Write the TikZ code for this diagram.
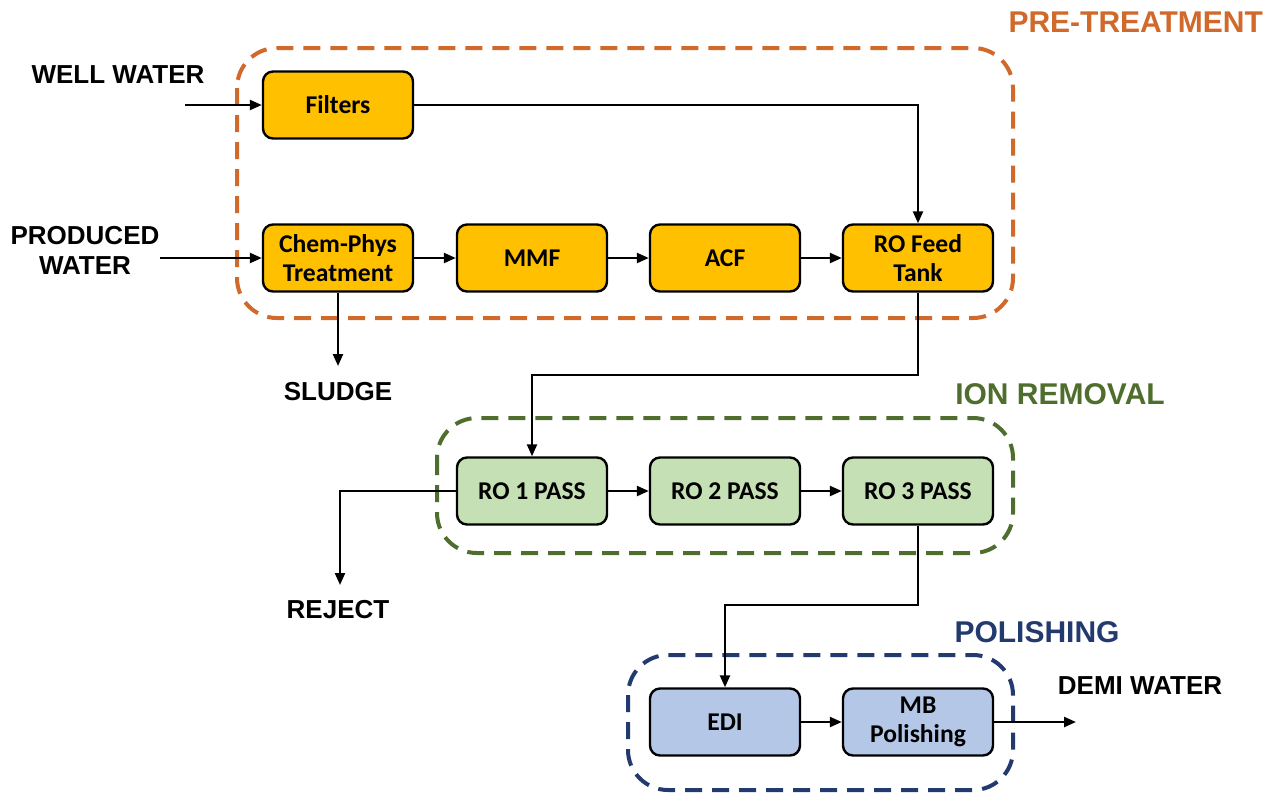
\documentclass[tikz,border=0pt]{standalone}
\usepackage{fontspec}
\newfontfamily\boxfont{Carlito}
\newfontfamily\tagfont{Liberation Sans}
\usetikzlibrary{arrows.meta, positioning}
\definecolor{prefill}{HTML}{FFC000}
\definecolor{preline}{HTML}{D0692A}
\definecolor{ionfill}{HTML}{C5E0B4}
\definecolor{ionline}{HTML}{4F6E2E}
\definecolor{polfill}{HTML}{B4C7E7}
\definecolor{polline}{HTML}{223A6E}
\tikzset{
  unit/.style   = {rectangle, rounded corners=5pt, draw=black, line width=1.2pt,
                   align=center, font=\boxfont\bfseries\fontsize{12.8}{14.5}\selectfont,
                   minimum width=75pt, minimum height=33.5pt, inner sep=2pt},
  preblk/.style = {unit, fill=prefill},
  ionblk/.style = {unit, fill=ionfill},
  polblk/.style = {unit, fill=polfill},
  grp/.style    = {dash pattern=on 8.5pt off 5pt, line width=2pt, rounded corners=20pt},
  tag/.style    = {font=\tagfont\bfseries\fontsize{13}{15}\selectfont, align=center},
  grptag/.style = {font=\tagfont\bfseries\fontsize{15}{17}\selectfont},
  flow/.style   = {-{Triangle[length=6pt, width=5pt]}, line width=1.15pt},
}
\begin{document}
\begin{tikzpicture}[x=0.5pt, y=-0.5pt]
        \useasboundingbox (0,0) rectangle (1268,794);
        % groups
        \draw[grp, draw=preline] (237,48) rectangle (1013,318);
        \draw[grp, draw=ionline] (437,418) rectangle (1013,553);
        \draw[grp, draw=polline] (628,655) rectangle (1013,790);
        \node[grptag, text=preline, anchor=east] (pretag) at (1270,22)  {PRE-TREATMENT};
        \node[grptag, text=ionline] (iontag) at (1060,394) {ION REMOVAL};
        \node[grptag, text=polline] (poltag) at (1037,632) {POLISHING};
        % pre-treatment
        \node[preblk] (filt) at (338,105) {Filters};
        \node[preblk] (chem) at (338,258) {Chem-Phys\\Treatment};
        \node[preblk] (mmf)  at (532,258) {MMF};
        \node[preblk] (acf)  at (725,258) {ACF};
        \node[preblk] (feed) at (918,258) {RO Feed\\Tank};
        % ion removal
        \node[ionblk] (ro1) at (532,491) {RO 1 PASS};
        \node[ionblk] (ro2) at (725,491) {RO 2 PASS};
        \node[ionblk] (ro3) at (918,491) {RO 3 PASS};
        % polishing
        \node[polblk] (edi) at (725,722) {EDI};
        \node[polblk] (mb)  at (918,722) {MB\\Polishing};
        % streams
        \node[tag] (well)   at (118,75)   {WELL WATER};
        \node[tag] (prod)   at (85,250)   {PRODUCED\\WATER};
        \node[tag] (sludge) at (338,392)  {SLUDGE};
        \node[tag] (reject) at (338,610)  {REJECT};
        \node[tag] (demi)   at (1140,686) {DEMI WATER};
        \coordinate (wellin)  at (185,105);
        \coordinate (prodin)  at (160,258);
        \coordinate (sludgeout) at (338,366);
        \coordinate (rejout)  at (340,585);
        \coordinate (demiout) at (1076,722);
        \coordinate (bend1)   at (918,375);
        \coordinate (bend2)   at (918,605);
        % connections
        \draw[flow] (wellin) -- (filt);
        \draw[flow] (prodin) -- (chem);
        \draw[flow] (filt) -| (feed);
        \foreach \x/\y in {chem/mmf, mmf/acf, acf/feed, ro1/ro2, ro2/ro3, edi/mb}{\draw[flow] (\x) -- (\y);}
        \draw[flow] (chem) -- (sludgeout);
        \draw[flow] (feed) -- (bend1) -| (ro1);
        \draw[flow] (ro1.west) -| (rejout);
        \draw[flow] (ro3) -- (bend2) -| (edi);
        \draw[flow] (mb) -- (demiout);
    \end{tikzpicture}
\end{document}
